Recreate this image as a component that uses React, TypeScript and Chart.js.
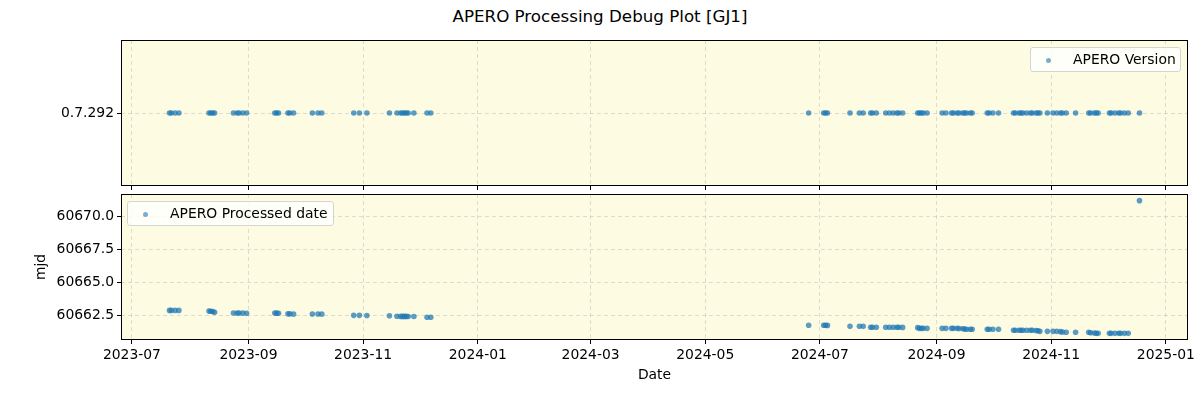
import React, { useEffect, useRef } from 'react';
import { Chart, registerables } from 'chart.js';
Chart.register(...registerables);

// ---------------- data ----------------
const obsDates = [
  '2023-07-21', '2023-07-22', '2023-07-24', '2023-07-26',
  '2023-08-11', '2023-08-12', '2023-08-13', '2023-08-14',
  '2023-08-24', '2023-08-26', '2023-08-27', '2023-08-29', '2023-08-31',
  '2023-09-15', '2023-09-16', '2023-09-17',
  '2023-09-22', '2023-09-23', '2023-09-25',
  '2023-10-05', '2023-10-08', '2023-10-10',
  '2023-10-27', '2023-10-30', '2023-11-03',
  '2023-11-15', '2023-11-19', '2023-11-21', '2023-11-22', '2023-11-23', '2023-11-24', '2023-11-25', '2023-11-28',
  '2023-12-05', '2023-12-07',
  '2024-06-25', '2024-07-03', '2024-07-04', '2024-07-05',
  '2024-07-17', '2024-07-22', '2024-07-24',
  '2024-07-28', '2024-07-29', '2024-07-31',
  '2024-08-05', '2024-08-07', '2024-08-09',
  '2024-08-11', '2024-08-12', '2024-08-14',
  '2024-08-22', '2024-08-23', '2024-08-24', '2024-08-25', '2024-08-27',
  '2024-09-04', '2024-09-06',
  '2024-09-09', '2024-09-10', '2024-09-12', '2024-09-13', '2024-09-15', '2024-09-16', '2024-09-17', '2024-09-19', '2024-09-20',
  '2024-09-28', '2024-09-29', '2024-10-01', '2024-10-04',
  '2024-10-12', '2024-10-13', '2024-10-15', '2024-10-16', '2024-10-17', '2024-10-19',
  '2024-10-21', '2024-10-22', '2024-10-24', '2024-10-25', '2024-10-26',
  '2024-10-30',
  '2024-11-02', '2024-11-04', '2024-11-06', '2024-11-07', '2024-11-09',
  '2024-11-14',
  '2024-11-21', '2024-11-22', '2024-11-24', '2024-11-25', '2024-11-26',
  '2024-12-02', '2024-12-03', '2024-12-05', '2024-12-07', '2024-12-08', '2024-12-10',
  '2024-12-12',
  '2024-12-18',
];

const mjdValues = [
  60662.90, 60662.90, 60662.90, 60662.90,
  60662.85, 60662.84, 60662.82, 60662.76,
  60662.71, 60662.71, 60662.70, 60662.70, 60662.69,
  60662.70, 60662.70, 60662.69,
  60662.64, 60662.64, 60662.62,
  60662.63, 60662.63, 60662.62,
  60662.53, 60662.53, 60662.52,
  60662.50, 60662.46, 60662.45, 60662.45, 60662.45, 60662.45, 60662.44, 60662.44,
  60662.38, 60662.38,
  60661.78, 60661.78, 60661.78, 60661.77,
  60661.70, 60661.70, 60661.70,
  60661.63, 60661.63, 60661.63,
  60661.63, 60661.63, 60661.63,
  60661.63, 60661.63, 60661.62,
  60661.60, 60661.55, 60661.55, 60661.55, 60661.55,
  60661.55, 60661.55,
  60661.55, 60661.55, 60661.55, 60661.53, 60661.52, 60661.50, 60661.48, 60661.48, 60661.48,
  60661.48, 60661.48, 60661.48, 60661.48,
  60661.40, 60661.40, 60661.40, 60661.40, 60661.40, 60661.40,
  60661.40, 60661.40, 60661.38, 60661.36, 60661.32,
  60661.32,
  60661.32, 60661.32, 60661.30, 60661.27, 60661.25,
  60661.25,
  60661.25, 60661.22, 60661.20, 60661.17, 60661.17,
  60661.17, 60661.17, 60661.17, 60661.17, 60661.17, 60661.17,
  60661.17,
  60671.18,
];

const V = '0.7.292';
const versionValues = [
  V, V, V, V, V, V, V, V, V, V, V, V, V, V, V, V, V, V, V, V,
  V, V, V, V, V, V, V, V, V, V, V, V, V, V, V, V, V, V, V, V,
  V, V, V, V, V, V, V, V, V, V, V, V, V, V, V, V, V, V, V, V,
  V, V, V, V, V, V, V, V, V, V, V, V, V, V, V, V, V, V, V, V,
  V, V, V, V, V, V, V, V, V, V, V, V, V, V, V, V, V, V, V, V,
  V, V,
];

const versionTicks = ['0.7.292'];
const xTickLabels = ['2023-07', '2023-09', '2023-11', '2024-01', '2024-03', '2024-05', '2024-07', '2024-09', '2024-11', '2025-01'];
const mjdTicks = [60662.5, 60665.0, 60667.5, 60670.0];

// ---------------- style ----------------
const FONT_FAMILY = 'DejaVu Sans';
const FS = 13.9;
const BG = 'rgb(253,252,227)';
const GRID = 'rgba(176,176,176,0.55)';
const POINT = 'rgba(31,119,180,0.72)';

const toMs = (s: string) => Date.parse(s + 'T00:00:00Z');
const xs = obsDates.map(toMs);
const xMinD = Math.min(...xs);
const xMaxD = Math.max(...xs);
const xPad = (xMaxD - xMinD) * 0.05;
const xMin = xMinD - xPad;
const xMax = xMaxD + xPad;

const yMinD = Math.min(...mjdValues);
const yMaxD = Math.max(...mjdValues);
const yPad = (yMaxD - yMinD) * 0.05;

const fmtMonth = (v: number) => new Date(v).toISOString().slice(0, 7);

const framePlugin = {
  id: 'frame',
  beforeDraw(chart: any) {
    const { ctx, chartArea } = chart;
    const { left, top, right, bottom } = chartArea;
    ctx.save();
    ctx.fillStyle = BG;
    ctx.fillRect(left, top, right - left, bottom - top);
    ctx.restore();
  },
  afterDraw(chart: any) {
    const { ctx, chartArea } = chart;
    const { left, top, right, bottom } = chartArea;
    ctx.save();
    ctx.strokeStyle = '#000';
    ctx.lineWidth = 1;
    ctx.setLineDash([]);
    ctx.strokeRect(Math.round(left) + 0.5, Math.round(top) + 0.5, Math.round(right - left) - 1, Math.round(bottom - top) - 1);
    ctx.restore();
  },
};

const font = { family: FONT_FAMILY, size: FS };

function xScale(showLabels: boolean, height: number) {
  return {
    type: 'linear' as const,
    min: xMin,
    max: xMax,
    afterBuildTicks: (s: any) => {
      s.ticks = xTickLabels.map((l) => ({ value: toMs(l + '-01') }));
    },
    afterFit: (s: any) => {
      s.height = height;
      s.paddingLeft = 0;
      s.paddingRight = 0;
    },
    ticks: {
      display: showLabels,
      autoSkip: false,
      maxRotation: 0,
      padding: 3,
      color: '#000',
      font,
      callback: (v: any) => fmtMonth(Number(v)),
    },
    grid: {
      color: GRID,
      lineWidth: 0.8,
      drawTicks: true,
      tickLength: 4,
      tickColor: '#000',
      tickWidth: 1,
      tickBorderDash: [],
    },
    border: { display: false, dash: [4, 3] },
    title: showLabels
      ? { display: true, text: 'Date', color: '#000', font, padding: { top: 0, bottom: 16.7 } }
      : { display: false },
  };
}

function ScatterPanel(props: { top: number; height: number; which: 'version' | 'mjd' }) {
  const ref = useRef<HTMLCanvasElement | null>(null);
  useEffect(() => {
    if (!ref.current) return;
    const isVersion = props.which === 'version';
    const data = isVersion
      ? xs.map((x, i) => ({ x, y: versionTicks.indexOf(versionValues[i]) }))
      : xs.map((x, i) => ({ x, y: mjdValues[i] }));
    const yScale: any = isVersion
      ? {
          type: 'linear',
          min: -1,
          max: 1,
          afterBuildTicks: (s: any) => {
            s.ticks = versionTicks.map((_, i) => ({ value: i }));
          },
          ticks: { color: '#000', font, padding: 3, callback: (v: any) => versionTicks[Number(v)] ?? '' },
        }
      : {
          type: 'linear',
          min: yMinD - yPad,
          max: yMaxD + yPad,
          afterBuildTicks: (s: any) => {
            s.ticks = mjdTicks.map((v) => ({ value: v }));
          },
          ticks: { color: '#000', font, padding: 3, callback: (v: any) => Number(v).toFixed(1) },
          title: { display: true, text: 'mjd', color: '#000', font, padding: { top: 32.7, bottom: 0 } },
        };
    yScale.afterFit = (s: any) => {
      s.width = 121;
      s.paddingTop = 0;
      s.paddingBottom = 0;
    };
    yScale.grid = {
      color: GRID,
      lineWidth: 0.8,
      tickLength: 4,
      tickColor: '#000',
      tickWidth: 1,
      tickBorderDash: [],
    };
    yScale.border = { display: false, dash: [4, 3] };

    const chart = new Chart(ref.current, {
      type: 'scatter',
      data: {
        datasets: [
          {
            label: isVersion ? 'APERO Version' : 'APERO Processed date',
            data,
            pointRadius: 2.8,
            pointHoverRadius: 2.8,
            backgroundColor: POINT,
            borderWidth: 0,
            showLine: false,
          },
        ],
      },
      options: {
        animation: false,
        responsive: false,
        maintainAspectRatio: false,
        events: [],
        layout: { padding: isVersion ? { top: 40, right: 12, left: 0, bottom: 0 } : { top: 4, right: 12, left: 0, bottom: 0 } },
        plugins: { legend: { display: false }, tooltip: { enabled: false }, title: { display: false } },
        scales: {
          x: xScale(!isVersion, isVersion ? 14 : 60) as any,
          y: yScale,
        },
      },
      plugins: [framePlugin],
    });
    return () => chart.destroy();
  }, []);
  return (
    <canvas
      ref={ref}
      width={1200}
      height={props.height}
      style={{ position: 'absolute', left: 0, top: props.top, width: 1200, height: props.height }}
    />
  );
}

function LegendBox(props: { left: number; top: number; width: number; text: string }) {
  return (
    <div
      style={{
        position: 'absolute',
        left: props.left,
        top: props.top,
        width: props.width,
        height: 25,
        boxSizing: 'border-box',
        border: '1px solid #d4d4d4',
        borderRadius: 3,
        background: 'rgba(255,255,255,0.8)',
      }}
    >
      <span
        style={{
          position: 'absolute',
          left: 15,
          top: 9.5,
          width: 5,
          height: 5,
          borderRadius: '50%',
          background: 'rgba(31,119,180,0.6)',
        }}
      />
      <span
        style={{
          position: 'absolute',
          left: 42,
          top: 3,
          fontFamily: FONT_FAMILY,
          fontSize: FS,
          lineHeight: '17px',
          color: '#000',
          whiteSpace: 'nowrap',
        }}
      >
        {props.text}
      </span>
    </div>
  );
}

export default function App() {
  return (
    <div style={{ position: 'fixed', left: 0, top: 0, width: 1200, height: 400, background: '#fff', overflow: 'hidden' }}>
      <div
        style={{
          position: 'absolute',
          left: 0,
          top: 6,
          width: 1200,
          textAlign: 'center',
          fontFamily: FONT_FAMILY,
          fontSize: 16.7,
          lineHeight: '20px',
          color: '#000',
        }}
      >
        APERO Processing Debug Plot [GJ1]
      </div>
      <ScatterPanel top={0} height={200} which="version" />
      <ScatterPanel top={190} height={210} which="mjd" />
      <LegendBox left={1030} top={47} width={151} text="APERO Version" />
      <LegendBox left={127} top={201} width={207} text="APERO Processed date" />
    </div>
  );
}
